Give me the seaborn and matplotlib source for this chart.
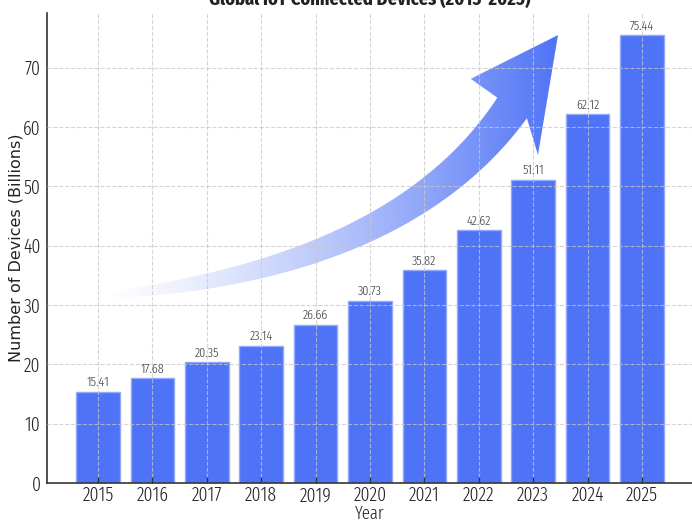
import numpy as np
import pandas as pd
import matplotlib
matplotlib.use("Agg")
import matplotlib.pyplot as plt
import seaborn as sns
from matplotlib.patches import Polygon
from matplotlib.colors import to_rgb

# Global IoT connected devices, billions
years = ["2015", "2016", "2017", "2018", "2019", "2020",
         "2021", "2022", "2023", "2024", "2025"]
devices = [15.41, 17.68, 20.35, 23.14, 26.66, 30.73,
           35.82, 42.62, 51.11, 62.12, 75.44]
y_ticks = [0, 10, 20, 30, 40, 50, 60, 70]

BAR = "#4F73F6"
EDGE = "#93A9FA"
TEXT = "#222222"
COND = "Fira Sans Extra Condensed"

sns.set_theme(style="white")
plt.rcParams["font.family"] = [COND, "DejaVu Sans"]

fig = plt.figure(figsize=(6.92, 5.2), dpi=100)
ax = fig.add_axes([47 / 692, 37 / 520, 646 / 692, 470 / 520])

df = pd.DataFrame({"Year": years, "Devices": devices})
sns.barplot(data=df, x="Year", y="Devices", color=BAR, saturation=1,
            width=0.8, edgecolor=EDGE, linewidth=1.0, ax=ax)

ax.bar_label(ax.containers[0], fmt="%.2f", padding=2,
             fontsize=9.5, fontweight=300, color="#3a3a3a")

# --- decorative growth arrow with a left-to-right fade -------------------
bb = ax.get_position()
W = bb.width * fig.get_figwidth() * fig.dpi
H = bb.height * fig.get_figheight() * fig.dpi

def to_px(p):
    return np.array([p[0] * W, p[1] * H])

p0 = to_px((0.082, 0.398))
p1 = to_px((0.546, 0.453))
p2 = to_px((0.720, 0.798))
barb_l = to_px((0.656, 0.860))
tip = to_px((0.791, 0.953))
barb_r = to_px((0.760, 0.698))

t = np.linspace(0, 1, 80)[:, None]
centre = (1 - t) ** 2 * p0 + 2 * t * (1 - t) * p1 + t ** 2 * p2
tangent = 2 * (1 - t) * (p1 - p0) + 2 * t * (p2 - p1)
tangent /= np.linalg.norm(tangent, axis=1, keepdims=True)
normal = np.column_stack([-tangent[:, 1], tangent[:, 0]])
half_w = (3 + 33 * t[:, 0] ** 0.6) / 2
upper = centre + normal * half_w[:, None]
lower = centre - normal * half_w[:, None]

outline = np.vstack([upper, [barb_l, tip, barb_r], lower[::-1]])
outline = outline / np.array([W, H])
arrow = Polygon(outline, closed=True, transform=ax.transAxes,
                facecolor="none", edgecolor="none")

x0, x1 = outline[:, 0].min(), outline[:, 0].max()
n = 256
grad = np.zeros((1, n, 4))
grad[..., :3] = to_rgb(BAR)
grad[..., 3] = np.linspace(0, 1, n) ** 1.3
im = ax.imshow(grad, extent=(x0, x1, 0, 1), origin="lower",
               transform=ax.transAxes, aspect="auto",
               interpolation="bilinear", zorder=1.5)
im.set_clip_path(arrow)

# --- axes styling ---------------------------------------------------------
ax.set_xlim(-0.94, 10.94)
ax.set_ylim(0, 79.2)
ax.set_yticks(y_ticks)
ax.grid(True, linestyle="--", color="#c8c8c8", linewidth=0.8, alpha=0.75)
ax.set_axisbelow(False)

sns.despine(ax=ax)
for side in ("left", "bottom"):
    ax.spines[side].set_color("#333333")
    ax.spines[side].set_linewidth(1.2)

ax.tick_params(axis="x", bottom=True, direction="in", length=4,
               width=1, color="#333333", labelsize=14, labelcolor=TEXT, pad=2)
ax.tick_params(axis="y", left=False, length=0, labelsize=14,
               labelcolor=TEXT, pad=4.5)
for lab in ax.get_xticklabels() + ax.get_yticklabels():
    lab.set_fontweight(300)

ax.set_title("Global IoT Connected Devices (2015-2025)", fontsize=14.5,
             fontweight="bold", color=TEXT, pad=6)
ax.set_xlabel("Year", fontsize=13, fontweight=300, color=TEXT, labelpad=0)
ax.set_ylabel("Number of Devices (Billions)", fontsize=11.5, color=TEXT,
              family="DejaVu Sans")
ax.yaxis.set_label_coords(-0.036, 0.5)

fig.savefig("out.png", dpi=100)
